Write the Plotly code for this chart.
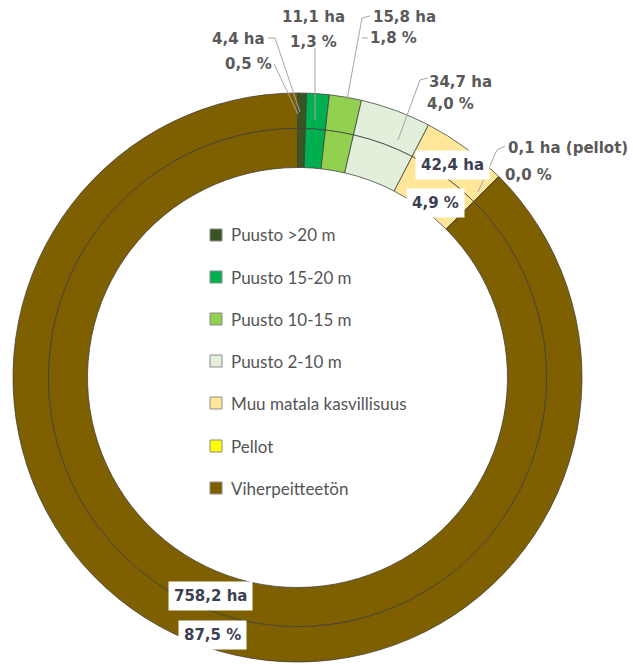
import plotly.graph_objects as go

# ---- data ----
categories = ["Puusto >20 m", "Puusto 15-20 m", "Puusto 10-15 m", "Puusto 2-10 m",
              "Muu matala kasvillisuus", "Pellot", "Viherpeitteetön"]
hectares = [4.4, 11.1, 15.8, 34.7, 42.4, 0.1, 758.2]
colors = ["#375623", "#00B050", "#92D050", "#E2EFDA", "#FFE699", "#FFFF00", "#7F6000"]

W, H = 633, 665
total = sum(hectares)

def fx(px):
    return px / W

def fy(py):
    return 1 - py / H

cx, cy = 297.5, 377.5
r_out, r_mid, r_in = 284.5, 249.0, 210.0

fig = go.Figure()
border = dict(color="rgba(60,60,60,0.75)", width=1)
fig.add_trace(go.Pie(
    labels=categories, values=hectares, sort=False, direction="clockwise", rotation=0,
    marker=dict(colors=colors, line=border), hole=r_mid / r_out, textinfo="none",
    hoverinfo="label+value+percent", showlegend=False,
    domain=dict(x=[fx(cx - r_out), fx(cx + r_out)], y=[fy(cy + r_out), fy(cy - r_out)]),
))
fig.add_trace(go.Pie(
    labels=categories, values=hectares, sort=False, direction="clockwise", rotation=0,
    marker=dict(colors=colors, line=border), hole=r_in / r_mid, textinfo="none",
    hoverinfo="label+value+percent", showlegend=False,
    domain=dict(x=[fx(cx - r_mid), fx(cx + r_mid)], y=[fy(cy + r_mid), fy(cy - r_mid)]),
))

def fmt(v):
    return f"{v:.1f}".replace(".", ",")

ha_text = [fmt(v) + " ha" for v in hectares]
pct_text = [fmt(v / total * 100) + " %" for v in hectares]
ha_text[5] = ha_text[5] + " (pellot)"

# label placement (pixel centres): (ha_pos, pct_pos, boxed)
label_pos = [
    ((239, 39), (248, 64), False),
    ((313, 17), (313, 42), False),
    ((405, 17), (393, 38), False),
    ((460, 82), (450, 104), False),
    ((452, 165), (435, 203), True),
    ((568, 148), (528, 175), False),
    ((210, 596), (213, 635), True),
]

LBL_FONT = "DejaVu Sans, Verdana, sans-serif"
LEG_FONT = "Lato, Calibri, sans-serif"
annotations = []
lbl_font = dict(family=LBL_FONT, size=15, color="#595959")
box_font = dict(family=LBL_FONT, size=15, color="#3B3F52")
for i, (p1, p2, boxed) in enumerate(label_pos):
    for txt, p in ((ha_text[i], p1), (pct_text[i], p2)):
        a = dict(x=fx(p[0]), y=fy(p[1]), xref="paper", yref="paper",
                 text="<b>" + txt + "</b>", showarrow=False,
                 xanchor="center", yanchor="middle",
                 font=box_font if boxed else lbl_font)
        if boxed:
            a.update(bgcolor="white", borderpad=5)
        annotations.append(a)

# leader lines (pixel paths)
leaders = [
    [(268, 38), (275, 38), (300, 112)],
    [(274, 64), (298, 114)],
    [(315, 48), (315, 120)],
    [(370, 16), (362, 18), (347, 100)],
    [(368, 38), (362, 38)],
    [(428, 78), (420, 80), (398, 140)],
    [(505, 146), (497, 150), (478, 192)],
]
shapes = []
for pts in leaders:
    path = "M " + " L ".join(f"{fx(x):.5f},{fy(y):.5f}" for x, y in pts)
    shapes.append(dict(type="path", xref="paper", yref="paper", path=path,
                       line=dict(color="#A6A6A6", width=1)))

# legend in the centre
leg_rows = [235, 277, 319, 361, 403, 446, 488]
for i, name in enumerate(categories):
    y = leg_rows[i]
    shapes.append(dict(type="rect", xref="paper", yref="paper",
                       x0=fx(210), x1=fx(222), y0=fy(y + 6), y1=fy(y - 6),
                       fillcolor=colors[i], line=dict(color="#8C8C8C", width=1)))
    annotations.append(dict(x=fx(229), y=fy(y), xref="paper", yref="paper",
                            text=name, showarrow=False, xanchor="left", yanchor="middle",
                            font=dict(family=LEG_FONT, size=17, color="#555555")))

fig.update_layout(
    width=W, height=H, margin=dict(l=0, r=0, t=0, b=0),
    paper_bgcolor="white", plot_bgcolor="white",
    annotations=annotations, shapes=shapes, showlegend=False,
)

fig.write_html("out.html", config={"displayModeBar": False},
               post_script="document.body.style.margin='0px';")
